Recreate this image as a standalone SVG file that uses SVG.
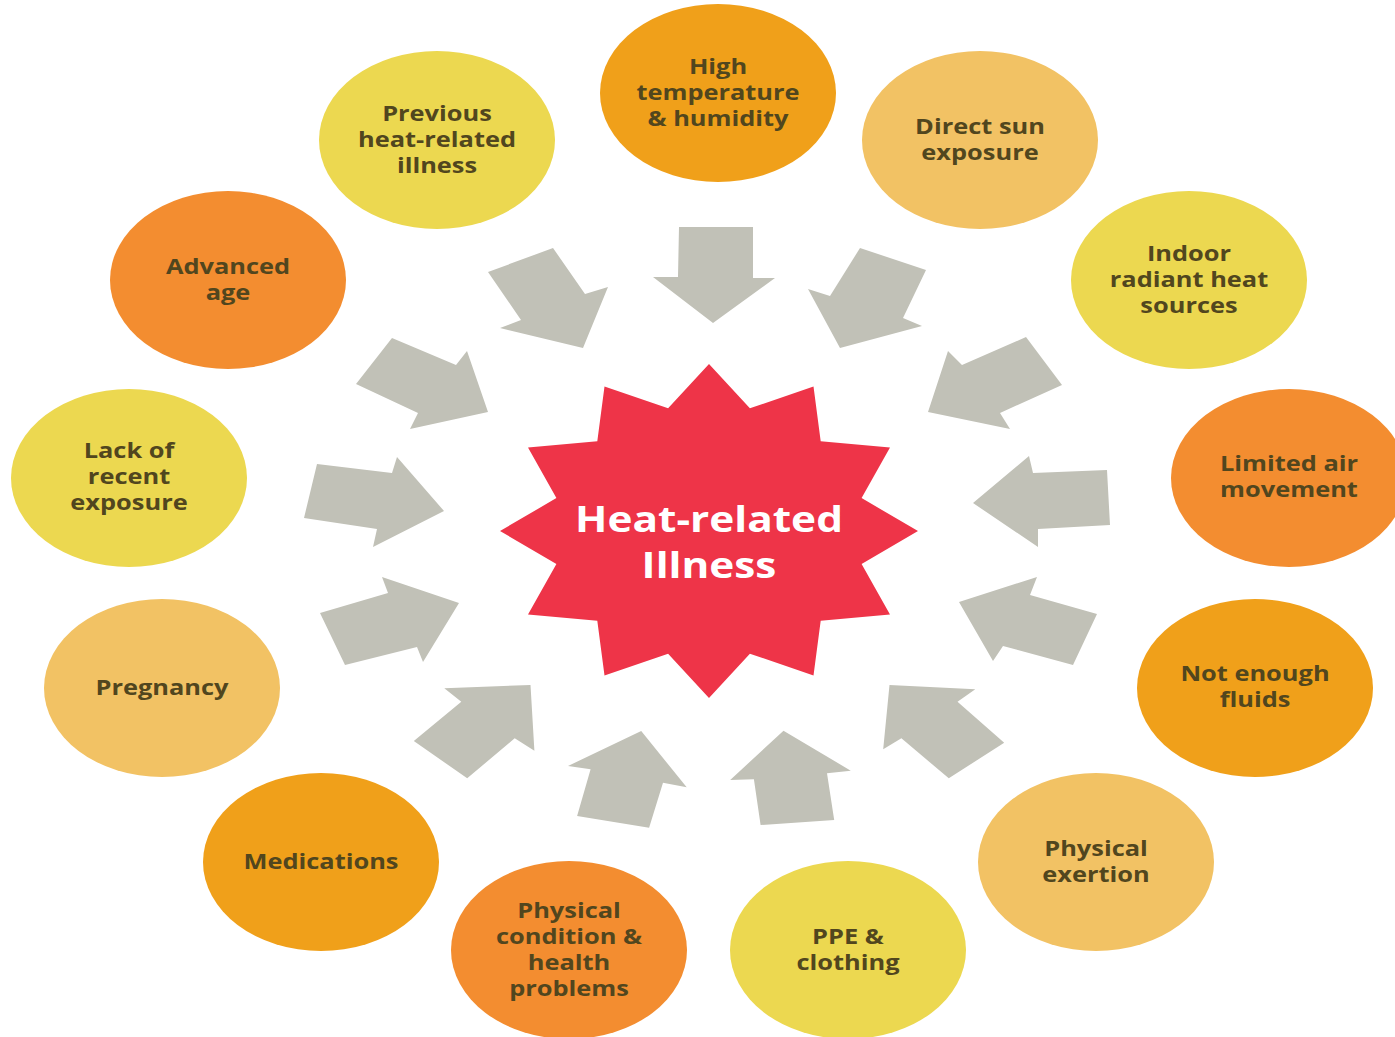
<svg xmlns="http://www.w3.org/2000/svg" width="1395" height="1037" viewBox="0 0 1395 1037">
<style>
.c1{fill:#F0A01A}
.c2{fill:#F2C264}
.c3{fill:#ECD850}
.c4{fill:#F38D30}
.lbl{font-family:"Open Sans","Liberation Sans",sans-serif;font-weight:700;font-size:21px;fill:#51461E;text-anchor:middle}
.arr{fill:#C1C1B7}
.ctr{font-family:"Open Sans","Liberation Sans",sans-serif;font-weight:700;font-size:35px;fill:#FFFFFF;text-anchor:middle}
</style>
<rect width="1395" height="1037" fill="#FFFFFF"/>
<g id="connectors">
<polygon class="arr" points="679,227 753,227 753,278 775,278 713,323 653,277 678,277"/>
<polygon class="arr" points="860,248 926,270 903,318 922,326 840,348 808,289 830,296"/>
<polygon class="arr" points="948,351 962,365 1026,337 1062,385 1000,413 1010,429 928,412"/>
<polygon class="arr" points="1029,456 1033,473 1107,470 1110,525 1038,529 1038,547 973,503"/>
<polygon class="arr" points="1037,577 1030,595 1097,614 1073,665 1003,646 993,661 959,602"/>
<polygon class="arr" points="889.5,685 975.3,689.3 957.5,701.7 1004.2,742.7 948.8,778.3 901.4,738.3 883.2,749.3"/>
<polygon class="arr" points="730.2,780 783.5,730.7 850.8,770.7 827,773.3 834.2,820 760.6,825 753.9,779.3"/>
<polygon class="arr" points="568,766 641.2,731 686.7,787.3 663,782.7 649.1,827.7 577.1,816 590.6,769.3"/>
<polygon class="arr" points="444.3,688.3 530.5,685 534.4,750.7 514.7,738.3 467.2,778.3 413.8,741 461.3,701.7"/>
<polygon class="arr" points="320,613 388,593 382,577 459,603 423,662 417,647 345,665"/>
<polygon class="arr" points="317,464 392,473 397,457 444,511 373,547 377,529 304,518"/>
<polygon class="arr" points="392,338 456,365 467,351 488,412 410,429 418,413 356,384"/>
<polygon class="arr" points="488,272 553,248 585,294 608,287 583,348 500,328 521,320"/>
</g>
<g id="center">
<polygon fill="#EE3448" points="709,364 749.9,408.3 813.5,386.4 820.7,441.2 890,447.5 861.6,498.1 918,531 861.6,563.9 890,614.5 820.7,620.8 813.5,675.6 749.9,653.7 709,698 668.1,653.7 604.5,675.6 597.3,620.8 528,614.5 556.4,563.9 500,531 556.4,498.1 528,447.5 597.3,441.2 604.5,386.4 668.1,408.3"/>
<g transform="translate(709 0) scale(1.21 1)"><text class="ctr"><tspan x="0" y="532">Heat-related</tspan><tspan x="0" y="578">Illness</tspan></text></g>
</g>
<g id="n-high">
<ellipse class="c1" cx="718" cy="93" rx="118" ry="89"/>
<g transform="translate(718 0) scale(1.21 1)"><text class="lbl"><tspan x="0" y="74">High</tspan><tspan x="0" y="100">temperature</tspan><tspan x="0" y="126">&amp; humidity</tspan></text></g>
</g>
<g id="n-sun">
<ellipse class="c2" cx="980" cy="140" rx="118" ry="89"/>
<g transform="translate(980 0) scale(1.21 1)"><text class="lbl"><tspan x="0" y="134">Direct sun</tspan><tspan x="0" y="160">exposure</tspan></text></g>
</g>
<g id="n-indoor">
<ellipse class="c3" cx="1189" cy="280" rx="118" ry="89"/>
<g transform="translate(1189 0) scale(1.21 1)"><text class="lbl"><tspan x="0" y="261">Indoor</tspan><tspan x="0" y="287">radiant heat</tspan><tspan x="0" y="313">sources</tspan></text></g>
</g>
<g id="n-air">
<ellipse class="c4" cx="1289" cy="478" rx="118" ry="89"/>
<g transform="translate(1289 0) scale(1.21 1)"><text class="lbl"><tspan x="0" y="471">Limited air</tspan><tspan x="0" y="497">movement</tspan></text></g>
</g>
<g id="n-fluids">
<ellipse class="c1" cx="1255" cy="688" rx="118" ry="89"/>
<g transform="translate(1255 0) scale(1.21 1)"><text class="lbl"><tspan x="0" y="681">Not enough</tspan><tspan x="0" y="707">fluids</tspan></text></g>
</g>
<g id="n-exertion">
<ellipse class="c2" cx="1096" cy="862" rx="118" ry="89"/>
<g transform="translate(1096 0) scale(1.21 1)"><text class="lbl"><tspan x="0" y="856">Physical</tspan><tspan x="0" y="882">exertion</tspan></text></g>
</g>
<g id="n-ppe">
<ellipse class="c3" cx="848" cy="950" rx="118" ry="89"/>
<g transform="translate(848 0) scale(1.21 1)"><text class="lbl"><tspan x="0" y="944">PPE &amp;</tspan><tspan x="0" y="970">clothing</tspan></text></g>
</g>
<g id="n-condition">
<ellipse class="c4" cx="569" cy="950" rx="118" ry="89"/>
<g transform="translate(569 0) scale(1.21 1)"><text class="lbl"><tspan x="0" y="918">Physical</tspan><tspan x="0" y="944">condition &amp;</tspan><tspan x="0" y="970">health</tspan><tspan x="0" y="996">problems</tspan></text></g>
</g>
<g id="n-meds">
<ellipse class="c1" cx="321" cy="862" rx="118" ry="89"/>
<g transform="translate(321 0) scale(1.21 1)"><text class="lbl"><tspan x="0" y="869">Medications</tspan></text></g>
</g>
<g id="n-pregnancy">
<ellipse class="c2" cx="162" cy="688" rx="118" ry="89"/>
<g transform="translate(162 0) scale(1.21 1)"><text class="lbl"><tspan x="0" y="695">Pregnancy</tspan></text></g>
</g>
<g id="n-lack">
<ellipse class="c3" cx="129" cy="478" rx="118" ry="89"/>
<g transform="translate(129 0) scale(1.21 1)"><text class="lbl"><tspan x="0" y="458">Lack of</tspan><tspan x="0" y="484">recent</tspan><tspan x="0" y="510">exposure</tspan></text></g>
</g>
<g id="n-age">
<ellipse class="c4" cx="228" cy="280" rx="118" ry="89"/>
<g transform="translate(228 0) scale(1.21 1)"><text class="lbl"><tspan x="0" y="274">Advanced</tspan><tspan x="0" y="300">age</tspan></text></g>
</g>
<g id="n-previous">
<ellipse class="c3" cx="437" cy="140" rx="118" ry="89"/>
<g transform="translate(437 0) scale(1.21 1)"><text class="lbl"><tspan x="0" y="121">Previous</tspan><tspan x="0" y="147">heat-related</tspan><tspan x="0" y="173">illness</tspan></text></g>
</g>
</svg>
